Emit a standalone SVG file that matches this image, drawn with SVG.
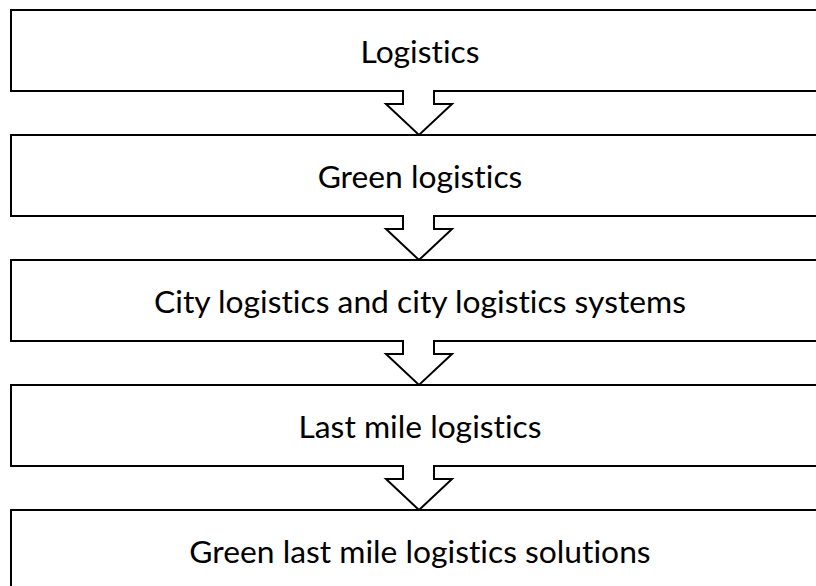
<svg xmlns="http://www.w3.org/2000/svg" width="816" height="586" viewBox="0 0 816 586">
<style>
.box{fill:#fff;stroke:#000;stroke-width:2}
.arr{fill:#fff;stroke:#000;stroke-width:2;stroke-linejoin:miter}
.lbl{font-family:Lato,"Open Sans","Liberation Sans",sans-serif;font-size:31.8px;fill:#000;text-anchor:middle;font-variant-ligatures:none;font-feature-settings:"liga" 0}
</style>
<rect width="816" height="586" fill="#fff"/>
<g id="n1"><rect class="box" x="11" y="10" width="820" height="81"/><text class="lbl" x="420" y="63">Logistics</text></g>
<g id="n2"><rect class="box" x="11" y="135" width="820" height="81"/><text class="lbl" x="420" y="188">Green logistics</text></g>
<g id="n3"><rect class="box" x="11" y="260" width="820" height="81"/><text class="lbl" x="420" y="313">City logistics and city logistics systems</text></g>
<g id="n4"><rect class="box" x="11" y="385" width="820" height="81"/><text class="lbl" x="420" y="438">Last mile logistics</text></g>
<g id="n5"><rect class="box" x="11" y="510" width="820" height="100"/><text class="lbl" x="420" y="563">Green last mile logistics solutions</text></g>
<g id="connectors">
<path class="arr" d="M403,90 V104 H386 L419,135 L452,104 H434 V90"/>
<path class="arr" d="M403,215 V229 H386 L419,260 L452,229 H434 V215"/>
<path class="arr" d="M403,340 V354 H386 L419,385 L452,354 H434 V340"/>
<path class="arr" d="M403,465 V479 H386 L419,510 L452,479 H434 V465"/>
</g>
</svg>
